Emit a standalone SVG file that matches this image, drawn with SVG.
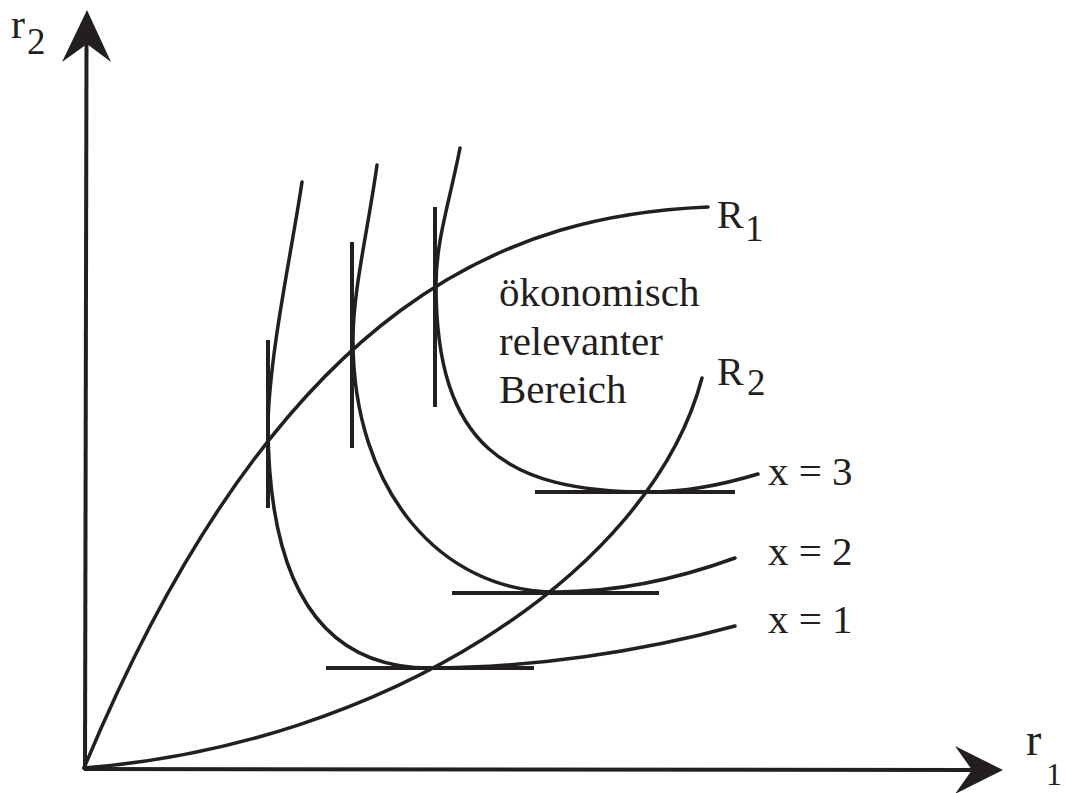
<svg xmlns="http://www.w3.org/2000/svg" width="1066" height="793" viewBox="0 0 1066 793">
<style>
.c{fill:none;stroke:#231f20;stroke-width:3.5;stroke-linecap:round}
.t{fill:none;stroke:#231f20;stroke-width:4}
.a{fill:#231f20}
text{font-family:"Liberation Serif","Times New Roman",serif;fill:#231f20}
.l{font-size:41px}
.s{font-size:37px}
</style>
<rect width="1066" height="793" fill="#fff"/>
<g id="axes">
<line class="t" x1="85" y1="770" x2="86.5" y2="44"/>
<polygon class="a" points="87,10 111,62 87,44 62,62"/>
<line class="t" x1="84" y1="769" x2="972" y2="770"/>
<polygon class="a" points="1003,770 955,746 972,770 955,794"/>
<text x="11" y="37.5" style="font-size:42px">r</text>
<text x="27" y="54" class="s">2</text>
<text x="1026" y="755" style="font-size:46px">r</text>
<text x="1046" y="785" style="font-size:32px">1</text>
</g>
<g id="R1">
<path class="c" d="M84,768 C284,288 520,215 708,207"/>
<text x="717" y="228" style="font-size:40px">R</text>
<text x="745" y="241" class="s">1</text>
</g>
<g id="R2">
<path class="c" d="M84,768 C380,745 650,575 702,378"/>
<text x="717" y="385" style="font-size:40px">R</text>
<text x="747" y="395" class="s">2</text>
</g>
<g id="x1">
<path class="c" d="M302,182 C292,250 270,350 268,423 C268,583 320,668 430,668 C530,668 640,652 735,626"/>
<line class="t" x1="268" y1="340" x2="268" y2="508"/>
<line class="t" x1="326" y1="668" x2="534" y2="668"/>
<text x="768" y="633" class="l">x = 1</text>
</g>
<g id="x2">
<path class="c" d="M377,165 C368,230 353,290 353,340 C353,490 440,592 557,592 C620,592 680,578 735,558"/>
<line class="t" x1="352" y1="242" x2="352" y2="448"/>
<line class="t" x1="452" y1="593" x2="659" y2="593"/>
<text x="768" y="565" class="l">x = 2</text>
</g>
<g id="x3">
<path class="c" d="M460,148 C450,200 436,240 436,285 C436,445 505,492 649,492 C690,492 725,484 758,474"/>
<line class="t" x1="435" y1="207" x2="435" y2="407"/>
<line class="t" x1="535" y1="492" x2="735" y2="492"/>
<text x="768" y="485" class="l">x = 3</text>
</g>
<g id="region">
<text x="499" y="306" class="l">ökonomisch</text>
<text x="499" y="355" class="l">relevanter</text>
<text x="499" y="403" class="l">Bereich</text>
</g>
</svg>
